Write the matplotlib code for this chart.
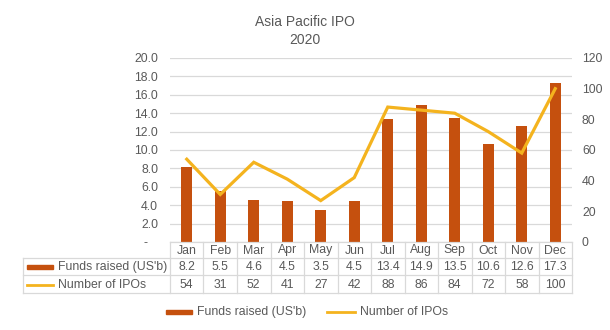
import matplotlib
matplotlib.use("Agg")
import matplotlib.pyplot as plt
from matplotlib.transforms import blended_transform_factory
from matplotlib.lines import Line2D
from matplotlib.patches import Rectangle

months = ["Jan", "Feb", "Mar", "Apr", "May", "Jun", "Jul", "Aug", "Sep", "Oct", "Nov", "Dec"]
funds_raised = [8.2, 5.5, 4.6, 4.5, 3.5, 4.5, 13.4, 14.9, 13.5, 10.6, 12.6, 17.3]
num_ipos = [54, 31, 52, 41, 27, 42, 88, 86, 84, 72, 58, 100]
left_ticks = [0, 2, 4, 6, 8, 10, 12, 14, 16, 18, 20]
right_ticks = [0, 20, 40, 60, 80, 100, 120]
series_names = ["Funds raised (US'b)", "Number of IPOs"]

BAR = "#C5500E"
LINE = "#F4B31E"
TXT = "#595959"
GRID = "#D9D9D9"
FS = 8.8

plt.rcParams["font.family"] = ["Liberation Sans", "DejaVu Sans"]

W, H = 610, 330
fig = plt.figure(figsize=(W / 100, H / 100), dpi=100)
fig.patch.set_facecolor("white")

# plot area in pixels
x0, x1, ytop, ybot = 170, 572, 58, 242
ax = fig.add_axes([x0 / W, (H - ybot) / H, (x1 - x0) / W, (ybot - ytop) / H])
ax2 = ax.twinx()

xs = list(range(len(months)))
ax.bar(xs, funds_raised, width=0.33, color=BAR, zorder=3)
ax2.plot(xs, num_ipos, color=LINE, lw=2.3, zorder=4, solid_joinstyle="miter")

ax.set_xlim(-0.5, len(months) - 0.5)
ax.set_ylim(0, 20)
ax2.set_ylim(0, 120)
ax.set_yticks(left_ticks)
ax.set_yticklabels(["-   "] + [f"{v:.1f}" for v in left_ticks[1:]])
ax2.set_yticks(right_ticks)
ax2.set_yticklabels([str(v) for v in right_ticks])
ax.set_xticks([])
ax.yaxis.grid(True, color=GRID, lw=0.9, zorder=0)
ax.set_axisbelow(True)
ax.tick_params(axis="y", length=0, pad=8.6, labelsize=FS, labelcolor=TXT)
ax2.tick_params(axis="y", length=0, pad=7.2, labelsize=FS, labelcolor=TXT)
for a in (ax, ax2):
    for s in ("top", "left", "right"):
        a.spines[s].set_visible(False)
    a.spines["bottom"].set_visible(False)
ax.set_zorder(ax2.get_zorder() - 1)
ax.patch.set_visible(False)

# title
fig.text(0.5, 1 - 22 / H, "Asia Pacific IPO", ha="center", va="center", fontsize=10, color=TXT)
fig.text(0.5, 1 - 40 / H, "2020", ha="center", va="center", fontsize=10, color=TXT)

# data table below the plot area
trans = blended_transform_factory(ax.transData, fig.transFigure)
ftrans = fig.transFigure


def fy(py):
    return 1 - py / H


def fx(px):
    return px / W


lw_t = 0.9
r_head_top, r1_top, r2_top, r2_bot = 242, 258, 275, 293
# axis baseline / header top
fig.add_artist(Line2D([fx(x0), fx(x1)], [fy(r_head_top)] * 2, color=GRID, lw=lw_t))
for yy in (r1_top, r2_top, r2_bot):
    fig.add_artist(Line2D([fx(23), fx(x1)], [fy(yy)] * 2, color=GRID, lw=lw_t))
fig.add_artist(Line2D([fx(23), fx(23)], [fy(r1_top), fy(r2_bot)], color=GRID, lw=lw_t))
for i in range(len(months) + 1):
    fig.add_artist(Line2D([i - 0.5, i - 0.5], [fy(r_head_top), fy(r2_bot)],
                          color=GRID, lw=lw_t, transform=trans))

for i, m in enumerate(months):
    fig.text(i, fy(250.5), m, transform=trans, ha="center", va="center", fontsize=FS, color=TXT)
    fig.text(i, fy(267), f"{funds_raised[i]:.1f}", transform=trans, ha="center", va="center",
             fontsize=FS, color=TXT)
    fig.text(i, fy(284.5), str(num_ipos[i]), transform=trans, ha="center", va="center",
             fontsize=FS, color=TXT)

# row legend keys
fig.add_artist(Rectangle((fx(27), fy(269)), fx(26), 4 / H, color=BAR, transform=ftrans))
fig.add_artist(Line2D([fx(27), fx(53)], [fy(284.5)] * 2, color=LINE, lw=2.0))
fig.text(fx(58), fy(267), series_names[0], ha="left", va="center", fontsize=FS, color=TXT)
fig.text(fx(58), fy(284.5), series_names[1], ha="left", va="center", fontsize=FS, color=TXT)

# bottom legend
fig.add_artist(Rectangle((fx(166), fy(314)), fx(26), 4 / H, color=BAR, transform=ftrans))
fig.text(fx(197), fy(312), series_names[0], ha="left", va="center", fontsize=FS, color=TXT)
fig.add_artist(Line2D([fx(327), fx(355)], [fy(312)] * 2, color=LINE, lw=2.0))
fig.text(fx(360), fy(312), series_names[1], ha="left", va="center", fontsize=FS, color=TXT)

fig.savefig("out.png", dpi=100, facecolor="white")
